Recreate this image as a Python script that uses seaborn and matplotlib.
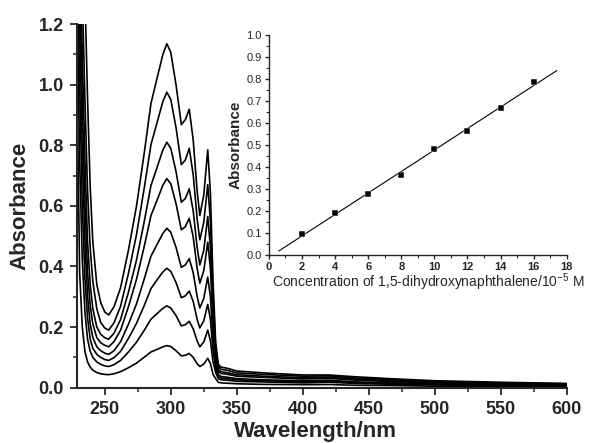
import numpy as np
import pandas as pd
import matplotlib
matplotlib.use("Agg")
import matplotlib.pyplot as plt
from matplotlib.ticker import MultipleLocator
import seaborn as sns

# wavelength grid (nm) shared by all spectra
wavelength = [229, 231, 233, 235, 237, 239, 241, 244, 247, 250, 253, 257, 262, 268, 274,
              280, 285, 290, 294, 297, 300, 304, 308, 311, 314, 317, 320, 322, 325, 328,
              330, 332, 334, 336, 338, 342, 350, 370, 400, 420, 440, 470, 500, 550, 600]

# absorbance of each spectrum (lowest to highest concentration)
spec_2 = [1.00, 0.38, 0.20, 0.12, 0.085, 0.068, 0.058, 0.050, 0.046, 0.044, 0.043, 0.046, 0.053, 0.066, 0.081,
          0.101, 0.118, 0.127, 0.135, 0.139, 0.136, 0.122, 0.105, 0.107, 0.113, 0.100, 0.079, 0.070, 0.078, 0.097,
          0.080, 0.044, 0.030, 0.018, 0.016, 0.015, 0.013, 0.011, 0.010, 0.0105, 0.008, 0.007, 0.005, 0.004, 0.003]
spec_4 = [1.30, 0.75, 0.42, 0.25, 0.16, 0.12, 0.10, 0.085, 0.077, 0.072, 0.070, 0.076, 0.090, 0.118, 0.150,
          0.190, 0.226, 0.246, 0.262, 0.270, 0.263, 0.238, 0.204, 0.208, 0.219, 0.194, 0.154, 0.135, 0.151, 0.190,
          0.156, 0.086, 0.050, 0.030, 0.026, 0.025, 0.021, 0.019, 0.016, 0.018, 0.014, 0.011, 0.009, 0.007, 0.0055]
spec_6 = [1.50, 1.00, 0.60, 0.36, 0.23, 0.16, 0.13, 0.11, 0.10, 0.093, 0.090, 0.099, 0.120, 0.163, 0.212,
          0.272, 0.327, 0.358, 0.382, 0.394, 0.384, 0.347, 0.297, 0.303, 0.319, 0.284, 0.225, 0.197, 0.221, 0.275,
          0.226, 0.124, 0.065, 0.036, 0.032, 0.030, 0.026, 0.023, 0.020, 0.021, 0.017, 0.0135, 0.011, 0.0085, 0.0066]
spec_8 = [1.60, 1.20, 0.78, 0.48, 0.30, 0.21, 0.165, 0.135, 0.122, 0.114, 0.110, 0.122, 0.152, 0.210, 0.276,
          0.360, 0.434, 0.476, 0.509, 0.526, 0.513, 0.463, 0.397, 0.405, 0.426, 0.379, 0.300, 0.263, 0.295, 0.365,
          0.300, 0.164, 0.080, 0.043, 0.037, 0.035, 0.030, 0.026, 0.023, 0.025, 0.019, 0.016, 0.012, 0.010, 0.0077]
spec_10 = [1.70, 1.35, 0.95, 0.60, 0.38, 0.27, 0.21, 0.165, 0.148, 0.140, 0.135, 0.152, 0.190, 0.268, 0.357,
           0.468, 0.568, 0.623, 0.668, 0.690, 0.673, 0.607, 0.521, 0.531, 0.559, 0.497, 0.393, 0.345, 0.386, 0.480,
           0.394, 0.216, 0.100, 0.054, 0.047, 0.045, 0.038, 0.034, 0.029, 0.031, 0.025, 0.020, 0.016, 0.0125, 0.010]
spec_12 = [1.75, 1.45, 1.10, 0.75, 0.48, 0.34, 0.26, 0.20, 0.176, 0.165, 0.160, 0.180, 0.225, 0.316, 0.420,
           0.550, 0.667, 0.732, 0.784, 0.810, 0.790, 0.713, 0.612, 0.624, 0.656, 0.583, 0.462, 0.405, 0.454, 0.565,
           0.463, 0.254, 0.115, 0.060, 0.053, 0.050, 0.043, 0.038, 0.033, 0.035, 0.028, 0.0225, 0.018, 0.014, 0.011]
spec_14 = [1.80, 1.55, 1.30, 0.95, 0.65, 0.46, 0.35, 0.26, 0.215, 0.197, 0.190, 0.214, 0.269, 0.378, 0.504,
           0.661, 0.802, 0.881, 0.944, 0.975, 0.951, 0.858, 0.736, 0.751, 0.790, 0.702, 0.556, 0.488, 0.546, 0.670,
           0.550, 0.302, 0.130, 0.070, 0.061, 0.058, 0.049, 0.044, 0.038, 0.039, 0.032, 0.026, 0.020, 0.016, 0.013]
spec_16 = [1.90, 1.70, 1.50, 1.30, 0.95, 0.66, 0.48, 0.34, 0.28, 0.25, 0.24, 0.267, 0.330, 0.455, 0.598,
           0.777, 0.938, 1.028, 1.099, 1.135, 1.107, 0.999, 0.868, 0.884, 0.919, 0.817, 0.647, 0.568, 0.636, 0.785,
           0.644, 0.353, 0.150, 0.078, 0.068, 0.065, 0.055, 0.049, 0.042, 0.042, 0.036, 0.029, 0.023, 0.018, 0.014]
spectra = [spec_2, spec_4, spec_6, spec_8, spec_10, spec_12, spec_14, spec_16]

# calibration (absorbance at 328 nm)
conc = [2, 4, 6, 8, 10, 12, 14, 16]
conc_abs = [0.097, 0.19, 0.275, 0.365, 0.48, 0.565, 0.67, 0.785]

sns.set_style("ticks")
plt.rcParams["font.family"] = ["Liberation Sans", "DejaVu Sans"]
plt.rcParams["mathtext.fontset"] = "custom"
plt.rcParams["mathtext.rm"] = "Liberation Sans"
plt.rcParams["mathtext.it"] = "Liberation Sans"

rows = []
for i, s in enumerate(spectra):
    for w, a in zip(wavelength, s):
        rows.append((w, a, i))
df = pd.DataFrame(rows, columns=["wl", "absorbance", "curve"])

fig = plt.figure(figsize=(5.91, 4.43), dpi=100)
ax = fig.add_axes([0.1303, 0.1248, 0.829, 0.821])
sns.lineplot(data=df, x="wl", y="absorbance", units="curve", estimator=None,
             color="black", lw=1.2, ax=ax, legend=False)
ax.set_xlim(229, 600)
ax.set_ylim(0, 1.2)
ax.xaxis.set_minor_locator(MultipleLocator(25))
ax.yaxis.set_minor_locator(MultipleLocator(0.1))
yt = np.arange(0, 1.21, 0.2)
ax.set_yticks(yt)
ax.set_yticklabels([f"{v:.1f}" for v in yt])
ax.set_xticks(np.arange(250, 601, 50))
ax.tick_params(which="major", direction="out", length=5, width=1.3, labelsize=13, pad=4.5)
ax.tick_params(which="minor", direction="out", length=3, width=1.1)
for lab in ax.get_xticklabels() + ax.get_yticklabels():
    lab.set_fontweight("bold")
ax.set_xlabel("Wavelength/nm", fontsize=16, fontweight="bold")
ax.xaxis.set_label_coords(0.486, -0.092)
ax.set_ylabel("Absorbance", fontsize=16, fontweight="bold", labelpad=6)
sns.despine(ax=ax)
for sp in ax.spines.values():
    sp.set_linewidth(1.5)

# inset: calibration plot
ins = fig.add_axes([0.455, 0.4244, 0.504, 0.4966])
slope, icpt = np.polyfit(conc, conc_abs, 1)
fit_x = np.array([0.6, 17.4])
sns.lineplot(x=fit_x, y=slope * fit_x + icpt, color="black", lw=0.8, ax=ins)
sns.scatterplot(x=conc, y=conc_abs, marker="s", color="black", s=18, ax=ins, zorder=3)
ins.set_xlim(0, 18)
ins.set_ylim(0, 1.0)
ins.xaxis.set_major_locator(MultipleLocator(2))
ins.xaxis.set_minor_locator(MultipleLocator(1))
ins.yaxis.set_major_locator(MultipleLocator(0.1))
ins.yaxis.set_minor_locator(MultipleLocator(0.05))
ins.tick_params(which="major", direction="out", length=3, width=1.0, labelsize=8, pad=2)
ins.tick_params(which="minor", direction="out", length=2, width=0.8)
for lab in ins.get_xticklabels():
    lab.set_fontweight("bold")
ins.set_xlabel("Concentration of 1,5-dihydroxynaphthalene/10$^{-5}$ M", fontsize=10)
ins.xaxis.set_label_coords(0.535, -0.075)
ins.set_ylabel("Absorbance", fontsize=11, fontweight="bold", labelpad=3)
sns.despine(ax=ins)
for sp in ins.spines.values():
    sp.set_linewidth(1.0)

fig.savefig("out.png", dpi=100)
